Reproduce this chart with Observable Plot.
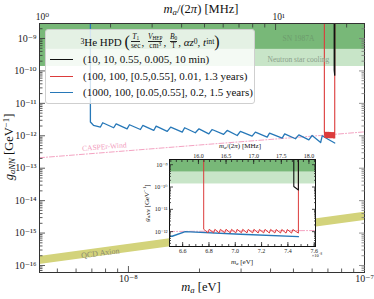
<!DOCTYPE html>
<html><head><meta charset="utf-8">
<script src="https://cdn.jsdelivr.net/npm/d3@7"></script>
<script src="https://cdn.jsdelivr.net/npm/@observablehq/plot@0.6"></script>
<style>
html,body{margin:0;padding:0;background:#fff;}
#wrap{position:relative;width:374px;height:299px;overflow:hidden;font-family:"Liberation Serif","DejaVu Serif",serif;color:#111;}
#wrap svg{position:absolute;overflow:visible;}
.lbl{position:absolute;white-space:nowrap;transform:translate(-50%,-50%);line-height:1;}
.lbl sub{font-size:70%;vertical-align:-0.25em;line-height:0;}
.lbl sup{font-size:70%;vertical-align:0.45em;line-height:0;}
#legend{position:absolute;left:45px;top:29px;width:208px;height:73px;background:rgba(255,255,255,0.8);border:1px solid #cfcfcf;border-radius:3px;}
#ltitle{position:absolute;left:0;right:0;top:3px;height:17px;display:flex;align-items:center;justify-content:center;font-size:11px;white-space:nowrap;}
#ltitle sup{font-size:70%;vertical-align:0.45em;line-height:0;}
#ltitle sub{font-size:70%;vertical-align:-0.25em;line-height:0;}
.fr{display:inline-flex;flex-direction:column;vertical-align:middle;font-size:7.5px;line-height:8px;text-align:center;margin:0 1px;}
.fr>span:first-child{border-bottom:0.6px solid #222;}
.paren{font-size:16px;line-height:0;}
.lrow{position:absolute;left:0;height:14px;display:flex;align-items:center;font-size:11px;white-space:nowrap;}
.lrow .sw{width:23px;height:0;border-top:1.6px solid;margin-left:4px;margin-right:10px;}
</style></head><body><div id="wrap"></div>
<script>
// ---------------- data ----------------
// exclusion bands (g_aNN in GeV^-1)
const bandNames = ["SN 1987A", "Neutron star cooling"];
const bandLow  = [4.6e-10, 1.37e-10];
const bandHigh = [1e-8, 4.6e-10];
// low-mass sliver of the darker region
const sliverMass = [4.2e-9, 4.45e-9];
const sliverG = [1.37e-10, 4.6e-10];

// QCD axion band
const qcdMass = [4.2e-9, 1e-7];
const qcdLow  = [1.07e-16, 2.45e-15];
const qcdHigh = [1.9e-16, 4.4e-15];

// CASPEr-Wind projection
const caspMass = [4.2e-9, 2e-8, 6.5e-8, 7.6e-8, 1e-7];
const caspG    = [2.1e-13, 5.2e-13, 1.02e-12, 1.12e-12, 1.32e-12];

// 3He HPD sensitivities
const seriesLabels = ["(10, 10, 0.55, 0.005, 10 min)", "(100, 100, [0.5,0.55], 0.01, 1.3 years)", "(1000, 100, [0.05,0.55], 0.2, 1.5 years)"];
const seriesColors = ["#111111", "#dc3b3b", "#2778b8"];

const blackMass = [7.445e-8, 7.445e-8, 7.48e-8, 7.48e-8];
const blackG    = [1e-8, 1.05e-10, 7.4e-11, 1e-8];

const redMass = [6.76e-8, 6.76e-8,
  6.792e-8, 6.802e-8, 6.835e-8, 6.845e-8, 6.877e-8, 6.887e-8, 6.920e-8, 6.930e-8,
  6.962e-8, 6.972e-8, 7.004e-8, 7.014e-8, 7.047e-8, 7.057e-8, 7.089e-8, 7.099e-8,
  7.132e-8, 7.142e-8, 7.174e-8, 7.184e-8, 7.216e-8, 7.226e-8, 7.259e-8, 7.269e-8,
  7.301e-8, 7.311e-8, 7.344e-8, 7.354e-8, 7.386e-8, 7.396e-8, 7.428e-8, 7.438e-8,
  7.48e-8, 7.48e-8];
const redG = [1e-8, 1.28e-12,
  8.9e-13, 1.28e-12, 8.9e-13, 1.27e-12, 8.8e-13, 1.27e-12, 8.9e-13, 1.28e-12,
  8.8e-13, 1.27e-12, 8.8e-13, 1.27e-12, 8.9e-13, 1.27e-12, 8.8e-13, 1.26e-12,
  8.8e-13, 1.27e-12, 8.7e-13, 1.26e-12, 8.8e-13, 1.26e-12, 8.7e-13, 1.26e-12,
  8.7e-13, 1.25e-12, 8.7e-13, 1.25e-12, 8.6e-13, 1.25e-12, 8.6e-13, 1.25e-12,
  8.6e-13, 1e-8];

const blueMass = [6.90e-9, 6.90e-9, 7.11e-9, 7.61e-9, 7.78e-9, 8.66e-9, 8.87e-9, 9.87e-9, 1.01e-8,
  1.124e-8, 1.15e-8, 1.28e-8, 1.31e-8, 1.46e-8, 1.51e-8, 1.69e-8, 1.73e-8, 1.92e-8, 1.99e-8,
  2.19e-8, 2.26e-8, 2.53e-8, 2.62e-8, 2.89e-8, 2.98e-8, 3.34e-8, 3.45e-8, 3.87e-8, 3.96e-8,
  4.48e-8, 4.59e-8, 5.10e-8, 5.27e-8, 5.81e-8, 6.0e-8, 6.52e-8, 6.62e-8, 7.04e-8, 7.48e-8];
const blueG = [1e-8, 2.65e-12, 2.11e-12, 1.86e-12, 2.52e-12, 1.77e-12, 2.34e-12, 1.64e-12, 2.19e-12,
  1.56e-12, 2.08e-12, 1.46e-12, 1.99e-12, 1.36e-12, 1.86e-12, 1.30e-12, 1.77e-12, 1.24e-12, 1.64e-12,
  1.15e-12, 1.56e-12, 1.10e-12, 1.46e-12, 1.02e-12, 1.36e-12, 9.8e-13, 1.30e-12, 9.1e-13, 1.21e-12,
  8.5e-13, 1.15e-12, 8.1e-13, 1.07e-12, 7.5e-13, 1.02e-12, 6.2e-13, 1.0e-12, 7.7e-13, 6.0e-13];

// annotations (anchor in data units)
const noteText = ["SN 1987A", "Neutron star cooling", "CASPEr-Wind", "QCD Axion"];
const noteMass = [5.25e-8, 5.25e-8, 7.9e-9, 7.6e-9];
const noteG    = [9.8e-10, 2.2e-10, 4.6e-13, 2.4e-16];

// axes
const mainXDomain = [4.2e-9, 1e-7];
const mainYDomain = [6.08e-17, 2.9e-9];
const insetXDomain = [6.5e-8, 7.61e-8];
const insetYDomain = [2.16e-13, 1.71e-9];
const evPerMHz = 4.2e-9;
const mainYTicks = [1e-16, 1e-15, 1e-14, 1e-13, 1e-12, 1e-11, 1e-10, 1e-9];
const mainXTicks = [1e-8, 1e-7];
const mainTopMHz = [1, 10];
const mainTopLabels = ["10⁰", "10¹"];
const insetXTicks = [6.6e-8, 6.8e-8, 7.0e-8, 7.2e-8, 7.4e-8, 7.6e-8];
const insetTopMHz = [16.0, 16.5, 17.0, 17.5, 18.0];
const insetYTicks = [1e-12, 1e-11, 1e-10, 1e-9];

// ---------------- helpers ----------------
const SUP = {"-":"⁻","0":"⁰","1":"¹","2":"²","3":"³","4":"⁴","5":"⁵","6":"⁶","7":"⁷","8":"⁸","9":"⁹"};
const pow10 = d => "10" + String(Math.round(Math.log10(d))).split("").map(c => SUP[c]).join("");
function logMinor(lo, hi) {
  const out = [];
  for (let n = Math.floor(Math.log10(lo)); n <= Math.ceil(Math.log10(hi)); n++)
    for (let k = 2; k <= 9; k++) { const v = k * Math.pow(10, n); if (v >= lo && v <= hi) out.push(v); }
  return out;
}
const pts = (ms, gs) => ms.map((m, i) => ({m, g: gs[i]}));
const TC = "#333";
function tx(values, anchor, size, color = TC) {
  return Plot.axisX(values, {anchor, tickSize: size, dy: anchor === "bottom" ? -size : size, fill: "none", stroke: color, label: null, strokeWidth: 0.8});
}
function ty(values, anchor, size, color = TC) {
  return Plot.axisY(values, {anchor, tickSize: size, dx: anchor === "left" ? size : -size, fill: "none", stroke: color, label: null, strokeWidth: 0.8});
}

const bandData = bandNames.map((n, i) => ({n, lo: bandLow[i], hi: bandHigh[i]}));
const bandColor = ["#78b878", "#c8e5c8"];
const qcd = qcdMass.map((m, i) => ({m, lo: qcdLow[i], hi: qcdHigh[i]}));
const notes = noteText.map((t, i) => ({t, m: noteMass[i], g: noteG[i]}));
const series = [pts(blackMass, blackG), pts(redMass, redG), pts(blueMass, blueG)];

function dataMarks(xd) {
  const out = [];
  bandData.forEach((b, i) => out.push(Plot.rect([b], {x1: () => xd[0], x2: () => xd[1], y1: "lo", y2: "hi", fill: bandColor[i], clip: true})));
  return out;
}

// ---------------- main plot ----------------
const wrap = document.getElementById("wrap");
const mainMinorY = logMinor(mainYDomain[0], mainYDomain[1]);
const mainMinorX = logMinor(mainXDomain[0], mainXDomain[1]);
const topMinorX = logMinor(1, mainXDomain[1] / evPerMHz).map(f => f * evPerMHz);
const topMajor = mainTopMHz.map((f, i) => ({x: f * evPerMHz, t: mainTopLabels[i]}));

const main = Plot.plot({
  width: 374, height: 299,
  marginLeft: 39, marginRight: 10, marginTop: 23, marginBottom: 27,
  x: {type: "log", domain: mainXDomain},
  y: {type: "log", domain: mainYDomain},
  style: {fontFamily: "Liberation Serif, DejaVu Serif, serif", fontSize: "10px", background: "transparent", color: "#222"},
  marks: [
    ...dataMarks(mainXDomain),
    Plot.rect([{a: sliverMass[0], b: sliverMass[1], lo: sliverG[0], hi: sliverG[1]}], {x1: "a", x2: "b", y1: "lo", y2: "hi", fill: "#78b878", clip: true}),
    Plot.areaY(qcd, {x: "m", y1: "lo", y2: "hi", fill: "#d3d37b", clip: true}),
    Plot.line(pts(caspMass, caspG), {x: "m", y: "g", stroke: "#f4a3c2", strokeWidth: 1, strokeDasharray: "5,2,1,2", clip: true}),
    Plot.line(series[2], {x: "m", y: "g", stroke: seriesColors[2], strokeWidth: 1.3, clip: true}),
    Plot.line(series[1], {x: "m", y: "g", stroke: seriesColors[1], strokeWidth: 1.1, clip: true}),
    Plot.line(series[0], {x: "m", y: "g", stroke: seriesColors[0], strokeWidth: 1.3, clip: true}),
    Plot.text([notes[0]], {x: "m", y: "g", text: "t", fill: "#6d9c6d", fontSize: 7.5}),
    Plot.text([notes[1]], {x: "m", y: "g", text: "t", fill: "#8a9f8a", fontSize: 7.5}),
    Plot.text([notes[2]], {x: "m", y: "g", text: "t", fill: "#f29bbd", fontSize: 7.5, rotate: -4.6}),
    Plot.text([notes[3]], {x: "m", y: "g", text: "t", fill: "#8c8c70", fontSize: 8, rotate: -7.7}),
    Plot.frame({stroke: "#333", strokeWidth: 1}),
    tx(mainXTicks, "bottom", 6), tx(mainMinorX, "bottom", 3.5),
    tx(topMajor.map(d => d.x), "top", 6), tx(topMinorX, "top", 3.5),
    ty(mainYTicks, "left", 6), ty(mainMinorY, "left", 3.5),
    ty(mainYTicks, "right", 6, "#777"), ty(mainMinorY, "right", 3.5, "#777"),
    Plot.axisX(mainXTicks, {anchor: "bottom", tickSize: 0, tickPadding: 2, tickFormat: pow10, label: null, fontSize: 10}),
    Plot.text(topMajor, {x: "x", frameAnchor: "top", dy: -4, lineAnchor: "bottom", dx: 3, text: "t", fill: "#222", fontSize: 9.5}),
    Plot.axisY(mainYTicks, {anchor: "left", tickSize: 0, tickPadding: 3, tickFormat: pow10, label: null, fontSize: 10})
  ]
});
main.style.left = "0px"; main.style.top = "0px";
wrap.appendChild(main);

// ---------------- inset ----------------
const insetMinorY = logMinor(insetYDomain[0], insetYDomain[1]);
const insetMinorX = d3.range(6.5, 7.62, 0.05).map(v => v * 1e-8);
const insetTopMajor = insetTopMHz.map(f => f * evPerMHz);
const insetTopMinor = d3.range(15.5, 18.15, 0.1).map(f => f * evPerMHz);

const inset = Plot.plot({
  width: 191, height: 129,
  marginLeft: 30, marginRight: 15, marginTop: 20, marginBottom: 22,
  x: {type: "linear", domain: insetXDomain},
  y: {type: "log", domain: insetYDomain},
  style: {fontFamily: "Liberation Serif, DejaVu Serif, serif", fontSize: "6px", background: "transparent", color: "#222"},
  marks: [
    Plot.frame({fill: "white", stroke: "none"}),
    ...dataMarks(insetXDomain),
    Plot.line(pts(caspMass, caspG), {x: "m", y: "g", stroke: "#f4a3c2", strokeWidth: 1, strokeDasharray: "5,2,1,2", clip: true}),
    Plot.line(series[2], {x: "m", y: "g", stroke: seriesColors[2], strokeWidth: 1.4, clip: true}),
    Plot.line(series[1], {x: "m", y: "g", stroke: seriesColors[1], strokeWidth: 1, clip: true}),
    Plot.line(series[0], {x: "m", y: "g", stroke: seriesColors[0], strokeWidth: 1.1, clip: true}),
    Plot.frame({stroke: "#111", strokeWidth: 1}),
    tx(insetXTicks, "bottom", 4, "#222"), tx(insetMinorX, "bottom", 2, "#222"),
    tx(insetTopMajor, "top", 4, "#222"), tx(insetTopMinor, "top", 2, "#222"),
    ty(insetYTicks, "left", 4, "#222"), ty(insetMinorY, "left", 2, "#222"),
    ty(insetYTicks, "right", 4, "#222"), ty(insetMinorY, "right", 2, "#222"),
    Plot.axisX(insetXTicks, {anchor: "bottom", tickSize: 0, tickPadding: 2, tickFormat: d => (d / 1e-8).toFixed(1), label: null, fontSize: 6}),
    Plot.axisX(insetTopMajor, {anchor: "top", tickSize: 0, tickPadding: 2, tickFormat: d => (d / evPerMHz).toFixed(1), label: null, fontSize: 6}),
    Plot.axisY(insetYTicks, {anchor: "left", tickSize: 0, tickPadding: 2, tickFormat: pow10, label: null, fontSize: 6})
  ]
});
inset.style.left = "139px"; inset.style.top = "139px";
wrap.appendChild(inset);

// ---------------- labels ----------------
function label(html, x, y, size, rot) {
  const d = document.createElement("div");
  d.className = "lbl";
  d.innerHTML = html;
  d.style.left = x + "px"; d.style.top = y + "px"; d.style.fontSize = size + "px";
  if (rot) d.style.transform = `translate(-50%,-50%) rotate(${rot}deg)`;
  wrap.appendChild(d);
}
label("<i>m</i><sub><i>a</i></sub> [eV]", 201, 287, 12.5);
label("<i>m</i><sub><i>a</i></sub>/(2<i>π</i>) [MHz]", 201, 9, 12.5);
label("<i>g</i><sub><i>aNN</i></sub> [GeV<sup>−1</sup>]", 9, 147, 12.5, -90);
label("<i>m</i><sub><i>a</i></sub> [eV]", 242, 262, 7);
label("<i>m</i><sub><i>a</i></sub>/(2<i>π</i>) [MHz]", 240, 146, 7);
label("<i>g</i><sub><i>aNN</i></sub> [GeV<sup>−1</sup>]", 147, 203, 7, -90);
label("×10<sup>−8</sup>", 317, 256, 4.5);

// ---------------- legend ----------------
const lg = document.createElement("div");
lg.id = "legend";
lg.innerHTML = `<div id="ltitle"><sup>3</sup>He HPD&nbsp;<span class="paren">(</span><span class="fr"><span><i>T</i><sub>1</sub></span><span>sec</span></span>,&nbsp;<span class="fr"><span><i>V</i><sub>HEP</sub></span><span>cm<sup>3</sup></span></span>,&nbsp;<span class="fr"><span><i>B</i><sub>0</sub></span><span>T</span></span>,&nbsp;<i>αz</i><sub>0</sub>,&nbsp;<i>t</i><sub>int</sub><span class="paren">)</span></div>`;
const rowTops = [22, 39, 55];
seriesLabels.forEach((t, i) => {
  const r = document.createElement("div");
  r.className = "lrow";
  r.style.top = rowTops[i] + "px";
  r.innerHTML = `<span class="sw" style="border-color:${seriesColors[i]}"></span><span>${t}</span>`;
  lg.appendChild(r);
});
wrap.appendChild(lg);
</script></body></html>
